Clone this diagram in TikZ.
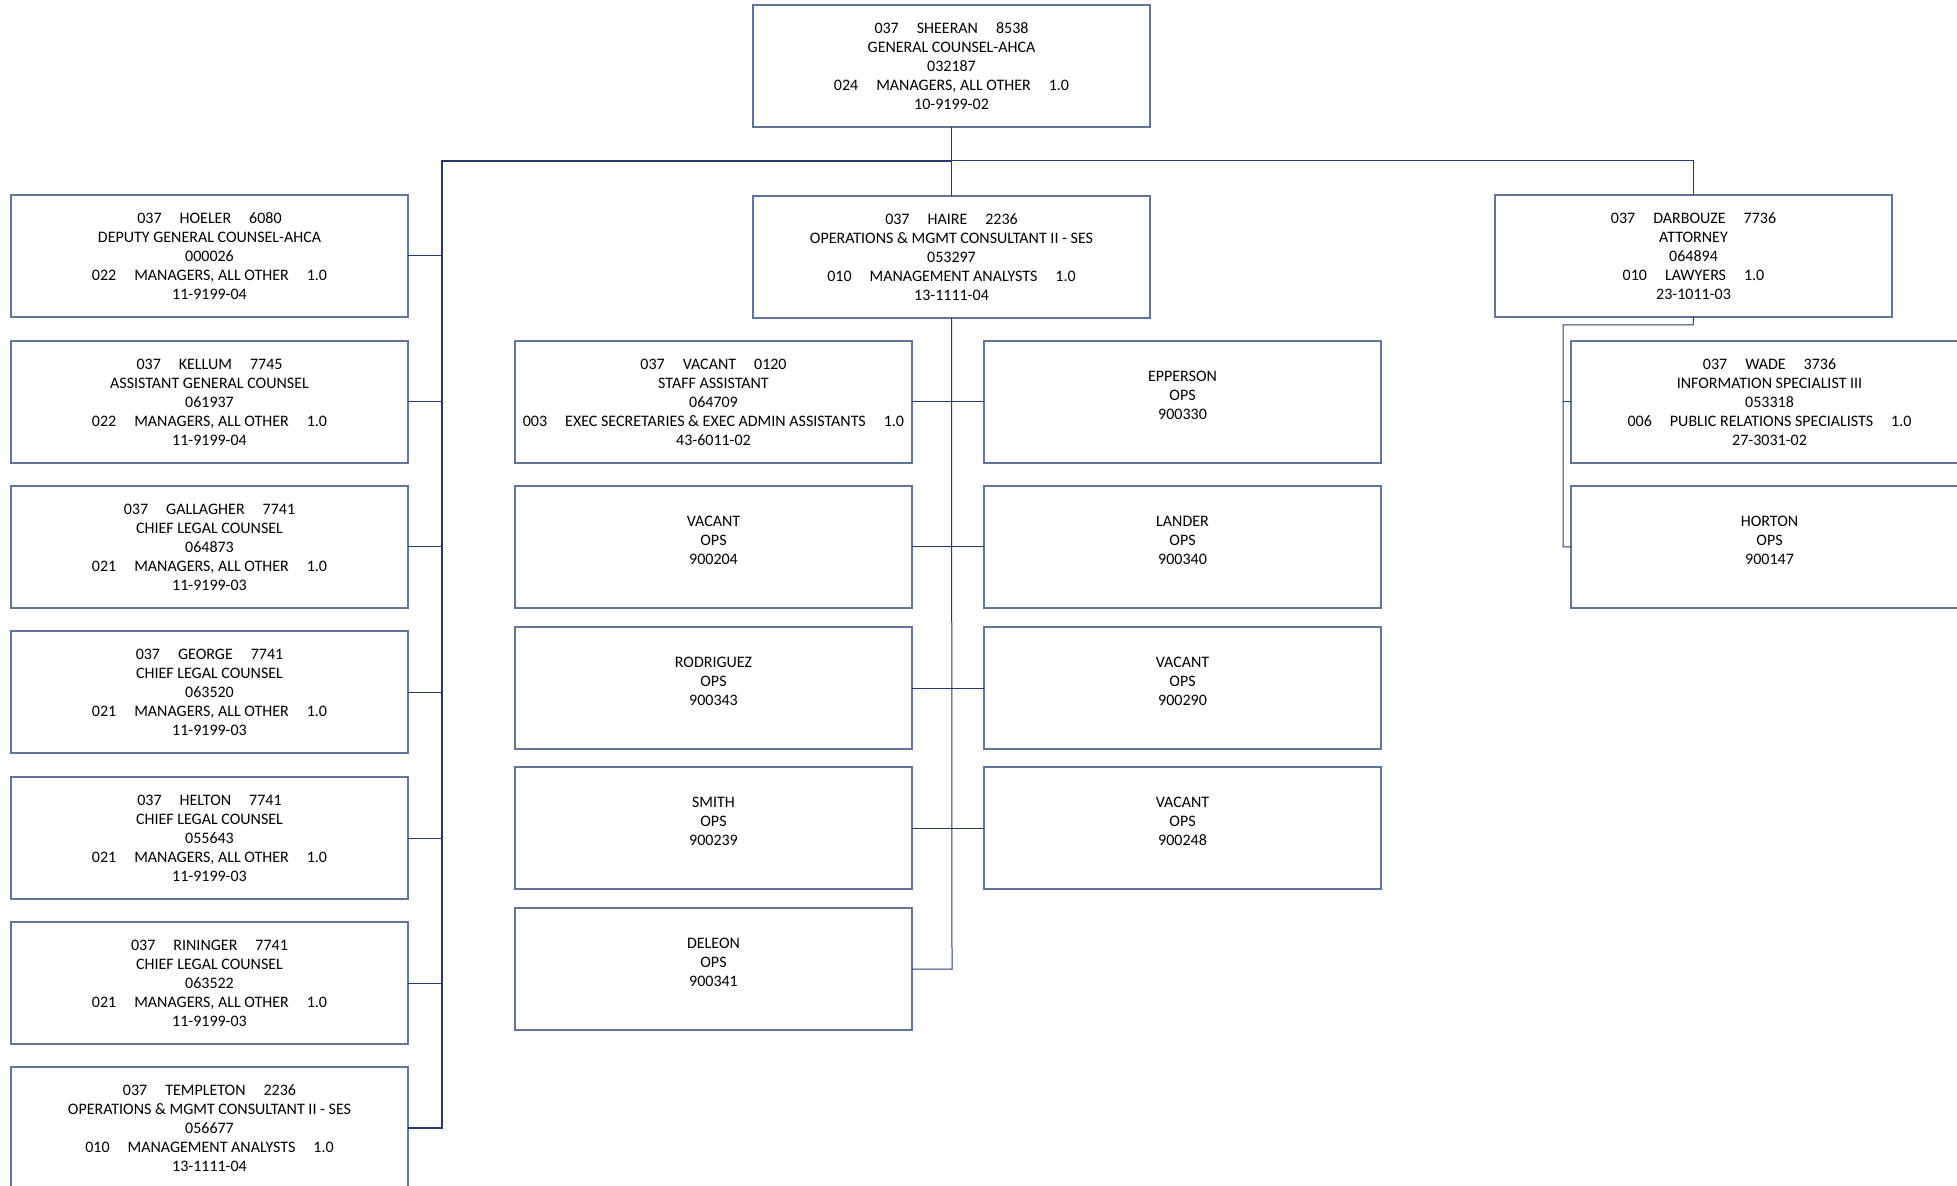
\documentclass[tikz,border=0pt]{standalone}
\usepackage{fontspec}
\setmainfont{Carlito}
\usetikzlibrary{calc}
\definecolor{linec}{RGB}{36,58,108}
\definecolor{boxc}{RGB}{96,116,156}
\newcommand\gp{\hspace{9pt}}
\begin{document}
\begin{tikzpicture}[x=0.5pt,y=-0.5pt,
  box/.style={draw=boxc, line width=0.65pt, rectangle, anchor=north west,
    minimum width=198.5pt, minimum height=61pt, inner sep=0pt, outer sep=0pt,
    align=center, font=\fontsize{8}{9.5}\selectfont},
  txt/.style={align=center, inner sep=0pt, font=\fontsize{8}{9.5}\selectfont},
  conn/.style={draw=linec, line width=0.5pt},
  mainconn/.style={draw=linec, line width=0.95pt}]
\useasboundingbox (0,0) rectangle (1957,1186);

% top
\node[box] (sheeran) at (753,5) {037\gp SHEERAN\gp 8538\\GENERAL COUNSEL-AHCA\\032187\\024\gp MANAGERS, ALL OTHER\gp 1.0\\10-9199-02};

% level 2
\node[box] (haire) at (753,196) {037\gp HAIRE\gp 2236\\OPERATIONS \& MGMT CONSULTANT II - SES\\053297\\010\gp MANAGEMENT ANALYSTS\gp 1.0\\13-1111-04};
\node[box] (darbouze) at (1495,195) {037\gp DARBOUZE\gp 7736\\ATTORNEY\\064894\\010\gp LAWYERS\gp 1.0\\23-1011-03};

% left column
\node[box] (hoeler) at (11,195) {037\gp HOELER\gp 6080\\DEPUTY GENERAL COUNSEL-AHCA\\000026\\022\gp MANAGERS, ALL OTHER\gp 1.0\\11-9199-04};
\node[box] (kellum) at (11,341) {037\gp KELLUM\gp 7745\\ASSISTANT GENERAL COUNSEL\\061937\\022\gp MANAGERS, ALL OTHER\gp 1.0\\11-9199-04};
\node[box] (gallagher) at (11,486) {037\gp GALLAGHER\gp 7741\\CHIEF LEGAL COUNSEL\\064873\\021\gp MANAGERS, ALL OTHER\gp 1.0\\11-9199-03};
\node[box] (george) at (11,631) {037\gp GEORGE\gp 7741\\CHIEF LEGAL COUNSEL\\063520\\021\gp MANAGERS, ALL OTHER\gp 1.0\\11-9199-03};
\node[box] (helton) at (11,777) {037\gp HELTON\gp 7741\\CHIEF LEGAL COUNSEL\\055643\\021\gp MANAGERS, ALL OTHER\gp 1.0\\11-9199-03};
\node[box] (rininger) at (11,922) {037\gp RININGER\gp 7741\\CHIEF LEGAL COUNSEL\\063522\\021\gp MANAGERS, ALL OTHER\gp 1.0\\11-9199-03};
\node[box] (templeton) at (11,1067) {037\gp TEMPLETON\gp 2236\\OPERATIONS \& MGMT CONSULTANT II - SES\\056677\\010\gp MANAGEMENT ANALYSTS\gp 1.0\\13-1111-04};

% middle column
\node[box] (staff) at (515,341) {037\gp VACANT\gp 0120\\STAFF ASSISTANT\\064709\\003\gp EXEC SECRETARIES \& EXEC ADMIN ASSISTANTS\gp 1.0\\43-6011-02};
\node[box] (vac1) at (515,486) {};
\node[box] (rodriguez) at (515,627) {};
\node[box] (smith) at (515,767) {};
\node[box] (deleon) at (515,908) {};
\node[box] (epperson) at (984,341) {};
\node[box] (lander) at (984,486) {};
\node[box] (vac2) at (984,627) {};
\node[box] (vac3) at (984,767) {};

\node[txt] (t-vac1) at ([yshift=3.5pt]vac1.center) {VACANT\\OPS\\900204};
\node[txt] (t-rod) at ([yshift=3.5pt]rodriguez.center) {RODRIGUEZ\\OPS\\900343};
\node[txt] (t-smith) at ([yshift=3.5pt]smith.center) {SMITH\\OPS\\900239};
\node[txt] (t-deleon) at ([yshift=3.5pt]deleon.center) {DELEON\\OPS\\900341};
\node[txt] (t-epp) at ([yshift=3.5pt]epperson.center) {EPPERSON\\OPS\\900330};
\node[txt] (t-lander) at ([yshift=3.5pt]lander.center) {LANDER\\OPS\\900340};
\node[txt] (t-vac2) at ([yshift=3.5pt]vac2.center) {VACANT\\OPS\\900290};
\node[txt] (t-vac3) at ([yshift=3.5pt]vac3.center) {VACANT\\OPS\\900248};

% right column
\node[box] (wade) at (1571,341) {037\gp WADE\gp 3736\\INFORMATION SPECIALIST III\\053318\\006\gp PUBLIC RELATIONS SPECIALISTS\gp 1.0\\27-3031-02};
\node[box] (horton) at (1571,486) {};
\node[txt] (t-horton) at ([yshift=3.5pt]horton.center) {HORTON\\OPS\\900147};

% connectors
\coordinate (busL) at (442,161);
\coordinate (busM) at (sheeran.south |- busL);
\coordinate (busR) at (darbouze.north |- busL);
\coordinate (haireEnd) at (952,969);
\coordinate (dkA) at (1693,325);
\coordinate (dkB) at (1563,325);

\draw[mainconn] (sheeran.south) -- (busM);
\draw[mainconn] (busM) -- (busL) |- (templeton.east);
\draw[conn] (busM) -- (busR) -- (darbouze.north);
\draw[conn] (busM) -- (haire.north);
\foreach \n in {hoeler,kellum,gallagher,george,helton,rininger}
  \draw[conn] (\n.east) -- (\n.east -| busL);

\draw[conn] (haire.south) -- (haireEnd) -- (deleon.east);
\foreach \n in {staff,vac1,rodriguez,smith}
  \draw[conn] (\n.east) -- (\n.east -| haire.south);
\foreach \n in {epperson,lander,vac2,vac3}
  \draw[conn] (\n.west) -- (\n.west -| haire.south);

\draw[conn] (darbouze.south) -- (dkA) -- (dkB) |- (horton.west);
\draw[conn] (wade.west) -- (wade.west -| dkB);
\end{tikzpicture}
\end{document}
